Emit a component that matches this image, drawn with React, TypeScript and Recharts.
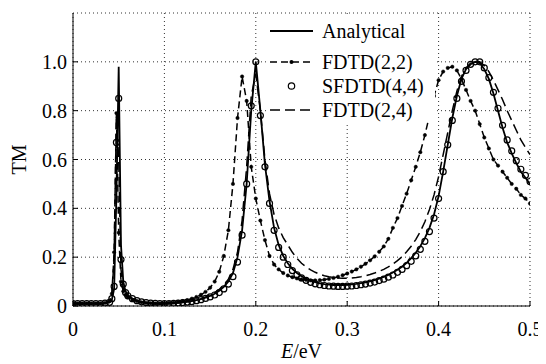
import React from 'react';
import { LineChart, Line, XAxis, YAxis, CartesianGrid, Legend, Label } from 'recharts';

const FONT = '"Liberation Serif", "Times New Roman", Times, serif';

const SERIES_NAMES = ['Analytical', 'FDTD(2,2)', 'SFDTD(4,4)', 'FDTD(2,4)'];
const X_TICKS = [0, 0.1, 0.2, 0.3, 0.4, 0.5];
const Y_TICKS = [0, 0.2, 0.4, 0.6, 0.8, 1.0];

const E = [
  0, 0.005, 0.01, 0.015, 0.02, 0.025, 0.03, 0.035, 0.04,
  0.0425, 0.045, 0.0475, 0.05, 0.0525, 0.055, 0.0575,
  0.06, 0.065, 0.07, 0.075, 0.08, 0.085, 0.09, 0.095,
  0.1, 0.105, 0.11, 0.115, 0.12, 0.125, 0.13, 0.135, 0.14, 0.145,
  0.15, 0.155, 0.16, 0.165, 0.17, 0.175, 0.18, 0.185, 0.19, 0.195,
  0.2, 0.205, 0.21, 0.215, 0.22, 0.225, 0.23, 0.235, 0.24, 0.245,
  0.25, 0.255, 0.26, 0.265, 0.27, 0.275, 0.28, 0.285, 0.29, 0.295,
  0.3, 0.305, 0.31, 0.315, 0.32, 0.325, 0.33, 0.335, 0.34, 0.345,
  0.35, 0.355, 0.36, 0.365, 0.37, 0.375, 0.38, 0.385, 0.39, 0.395,
  0.4, 0.405, 0.41, 0.415, 0.42, 0.425, 0.43, 0.435, 0.44, 0.445,
  0.45, 0.455, 0.46, 0.465, 0.47, 0.475, 0.48, 0.485, 0.49, 0.495,
  0.5,
];

const ANALYTICAL = [
  0.01, 0.01, 0.01, 0.01, 0.01, 0.01, 0.01, 0.012, 0.015,
  0.025, 0.07, 0.45, 0.98, 0.25, 0.1, 0.06,
  0.045, 0.03, 0.022, 0.017, 0.014, 0.012, 0.011, 0.01,
  0.01, 0.011, 0.012, 0.013, 0.015, 0.017, 0.02, 0.024, 0.028, 0.034,
  0.041, 0.05, 0.062, 0.078, 0.1, 0.135, 0.2, 0.31, 0.5, 0.8,
  1.0, 0.8, 0.58, 0.43, 0.32, 0.25, 0.205, 0.175, 0.152, 0.135,
  0.122, 0.112, 0.104, 0.098, 0.093, 0.09, 0.088, 0.086, 0.086, 0.086,
  0.087, 0.089, 0.091, 0.094, 0.097, 0.101, 0.106, 0.112, 0.119, 0.127,
  0.137, 0.148, 0.161, 0.177, 0.196, 0.218, 0.245, 0.278, 0.32, 0.375,
  0.45, 0.55, 0.66, 0.77, 0.86, 0.93, 0.97, 0.99, 1.0, 0.995,
  0.97, 0.93, 0.87, 0.8, 0.73, 0.67, 0.625, 0.585, 0.55, 0.525,
  0.5,
];

const FDTD22 = [
  0.01, 0.01, 0.01, 0.01, 0.01, 0.01, 0.01, 0.013, 0.02,
  0.05, 0.22, 0.79, 0.3, 0.1, 0.06, 0.045,
  0.035, 0.025, 0.02, 0.015, 0.013, 0.011, 0.01, 0.01,
  0.011, 0.012, 0.014, 0.017, 0.02, 0.024, 0.03, 0.037, 0.046, 0.058,
  0.075, 0.1, 0.14, 0.205, 0.31, 0.5, 0.77, 0.94, 0.84, 0.57,
  0.44, 0.35, 0.27, 0.205, 0.17, 0.15, 0.135, 0.125, 0.118, 0.113,
  0.109, 0.107, 0.105, 0.105, 0.106, 0.108, 0.111, 0.115, 0.12, 0.126,
  0.133, 0.141, 0.15, 0.161, 0.173, 0.187, 0.203, 0.222, 0.244, 0.275,
  0.32, 0.36, 0.41, 0.46, 0.515, 0.57, 0.63, 0.7, 0.78, 0.86,
  0.925, 0.96, 0.975, 0.98, 0.965, 0.93, 0.885, 0.84, 0.8, 0.745,
  0.69, 0.645, 0.6, 0.575, 0.55, 0.525, 0.5, 0.48, 0.455, 0.44,
  0.42,
];

const SFDTD44 = [
  0.01, 0.01, 0.01, 0.01, 0.01, 0.01, 0.01, 0.012, 0.015,
  0.03, 0.08, 0.67, 0.85, 0.19, 0.09, 0.055,
  0.042, 0.03, 0.022, 0.017, 0.014, 0.012, 0.011, 0.01,
  0.01, 0.01, 0.011, 0.012, 0.014, 0.016, 0.018, 0.022, 0.026, 0.031,
  0.037, 0.045, 0.055, 0.07, 0.09, 0.12, 0.18, 0.29, 0.5, 0.82,
  1.0, 0.78, 0.57, 0.42, 0.31, 0.24, 0.2, 0.17, 0.145, 0.128,
  0.115, 0.105, 0.097, 0.091, 0.087, 0.084, 0.082, 0.081, 0.08, 0.08,
  0.081, 0.082, 0.084, 0.087, 0.09, 0.094, 0.098, 0.104, 0.11, 0.118,
  0.127, 0.138, 0.15, 0.165, 0.183, 0.205, 0.232, 0.265, 0.305, 0.36,
  0.44, 0.55, 0.66, 0.76, 0.85, 0.92, 0.965, 0.99, 1.0, 1.0,
  0.975, 0.935, 0.875, 0.81, 0.74, 0.68, 0.635, 0.595, 0.56, 0.535,
  0.51,
];

const FDTD24 = [
  0.01, 0.01, 0.01, 0.01, 0.01, 0.01, 0.01, 0.012, 0.018,
  0.04, 0.2, 0.78, 0.6, 0.15, 0.07, 0.05,
  0.04, 0.028, 0.021, 0.016, 0.013, 0.011, 0.01, 0.01,
  0.01, 0.011, 0.012, 0.014, 0.016, 0.019, 0.022, 0.026, 0.031, 0.037,
  0.045, 0.055, 0.068, 0.085, 0.11, 0.15, 0.22, 0.35, 0.57, 0.86,
  0.95, 0.8, 0.6, 0.46, 0.375, 0.32, 0.28, 0.25, 0.22, 0.195,
  0.175, 0.16, 0.148, 0.138, 0.13, 0.124, 0.12, 0.117, 0.115, 0.114,
  0.114, 0.115, 0.117, 0.12, 0.124, 0.129, 0.135, 0.142, 0.15, 0.16,
  0.172, 0.186, 0.202, 0.222, 0.245, 0.272, 0.305, 0.345, 0.395, 0.455,
  0.53, 0.62, 0.71, 0.8, 0.88, 0.94, 0.975, 0.995, 1.0, 1.0,
  0.985, 0.96, 0.925, 0.885, 0.845, 0.8, 0.76, 0.72, 0.68, 0.65,
  0.62,
];

const rows = E.map((e, i) => ({
  E: e,
  analytical: ANALYTICAL[i],
  fdtd22: FDTD22[i],
  sfdtd44: SFDTD44[i],
  fdtd24: FDTD24[i],
}));

const fmt = (v: number) => (v === 0 ? '0' : v.toFixed(1));

const XLabel = (props: any) => {
  const vb = props.viewBox || { x: 65, y: 298, width: 457, height: 30 };
  const cx = vb.x + vb.width / 2;
  return (
    <text x={cx} y={vb.y + 45} textAnchor="middle" dominantBaseline="central" fontFamily={FONT} fontSize={20} fill="#000">
      <tspan fontStyle="italic">E</tspan>
      <tspan>/eV</tspan>
    </text>
  );
};

const YLabel = (props: any) => {
  const vb = props.viewBox || { x: 10, y: 5, width: 55, height: 293 };
  const cx = vb.x + 1;
  const cy = vb.y + vb.height / 2;
  return (
    <text x={cx} y={cy} textAnchor="middle" dominantBaseline="central" fontFamily={FONT} fontSize={20} fill="#000" transform={`rotate(-90 ${cx} ${cy})`}>
      TM
    </text>
  );
};

const LegendBox = () => {
  const rowsY = [15, 46, 70, 94];
  const x1 = 4;
  const x2 = 47;
  const mid = (x1 + x2) / 2;
  return (
    <svg width={169} height={106} style={{ display: 'block' }}>
      <line x1={x1} x2={x2} y1={rowsY[0]} y2={rowsY[0]} stroke="#000" strokeWidth={2} />
      <line x1={x1} x2={x2} y1={rowsY[1]} y2={rowsY[1]} stroke="#000" strokeWidth={1.6} strokeDasharray="7 4" />
      <circle cx={mid} cy={rowsY[1]} r={2} fill="#000" />
      <circle cx={mid} cy={rowsY[2]} r={3.2} fill="none" stroke="#000" strokeWidth={1.2} />
      <line x1={x1} x2={x2} y1={rowsY[3]} y2={rowsY[3]} stroke="#000" strokeWidth={1.6} strokeDasharray="10 5" />
      {SERIES_NAMES.map((name, i) => (
        <text key={name} x={56} y={rowsY[i]} dominantBaseline="central" fontFamily={FONT} fontSize={20} fill="#000">
          {name}
        </text>
      ))}
    </svg>
  );
};

export default function App() {
  return (
    <div style={{ width: 538, height: 356 }}>
      <LineChart width={538} height={356} data={rows} margin={{ top: 5, right: 16, bottom: 28, left: 10 }}>
        <CartesianGrid stroke="#333" strokeDasharray="1 3" strokeWidth={1} />
        <XAxis
          xAxisId={0}
          dataKey="E"
          type="number"
          domain={[0, 0.5]}
          ticks={X_TICKS}
          allowDataOverflow
          interval={0}
          height={30}
          tickSize={-5}
          tickMargin={21}
          tickLine={{ stroke: '#000' }}
          axisLine={{ stroke: '#000' }}
          tick={{ fontFamily: FONT, fontSize: 20, fill: '#000' }}
          tickFormatter={fmt}
        >
          <Label content={XLabel} />
        </XAxis>
        <XAxis
          xAxisId="top"
          orientation="top"
          dataKey="E"
          type="number"
          domain={[0, 0.5]}
          ticks={X_TICKS}
          allowDataOverflow
          interval={0}
          height={0}
          tickSize={-5}
          tick={false}
          tickLine={{ stroke: '#000' }}
          axisLine={{ stroke: '#000' }}
        />
        <YAxis
          yAxisId={0}
          type="number"
          domain={[0, 1.2]}
          ticks={Y_TICKS}
          allowDataOverflow
          interval={0}
          width={55}
          tickSize={-5}
          tickMargin={11}
          tickLine={{ stroke: '#000' }}
          axisLine={{ stroke: '#000' }}
          tick={{ fontFamily: FONT, fontSize: 20, fill: '#000' }}
          tickFormatter={fmt}
        >
          <Label content={YLabel} />
        </YAxis>
        <YAxis
          yAxisId="right"
          orientation="right"
          type="number"
          domain={[0, 1.2]}
          ticks={Y_TICKS}
          allowDataOverflow
          interval={0}
          width={0}
          tickSize={-5}
          tick={false}
          tickLine={{ stroke: '#000' }}
          axisLine={{ stroke: '#000' }}
        />
        <Line
          dataKey="analytical"
          name={SERIES_NAMES[0]}
          type="linear"
          stroke="#000"
          strokeWidth={1.8}
          dot={false}
          activeDot={false}
          isAnimationActive={false}
        />
        <Line
          dataKey="fdtd22"
          name={SERIES_NAMES[1]}
          type="linear"
          stroke="#000"
          strokeWidth={1.5}
          strokeDasharray="7 4"
          dot={{ r: 1.7, fill: '#000', stroke: '#000', strokeWidth: 0.5, strokeDasharray: 'none' }}
          activeDot={false}
          isAnimationActive={false}
        />
        <Line
          dataKey="sfdtd44"
          name={SERIES_NAMES[2]}
          type="linear"
          stroke="none"
          strokeWidth={0}
          dot={{ r: 3, fill: 'none', stroke: '#000', strokeWidth: 1.2 }}
          activeDot={false}
          isAnimationActive={false}
        />
        <Line
          dataKey="fdtd24"
          name={SERIES_NAMES[3]}
          type="linear"
          stroke="#000"
          strokeWidth={1.5}
          strokeDasharray="10 5"
          dot={false}
          activeDot={false}
          isAnimationActive={false}
        />
        <Legend
          layout="vertical"
          align="center"
          verticalAlign="middle"
          content={LegendBox}
          wrapperStyle={{ left: 258, top: 8, width: 169, height: 106, background: '#fff', padding: 0, margin: 0 }}
        />
      </LineChart>
    </div>
  );
}
